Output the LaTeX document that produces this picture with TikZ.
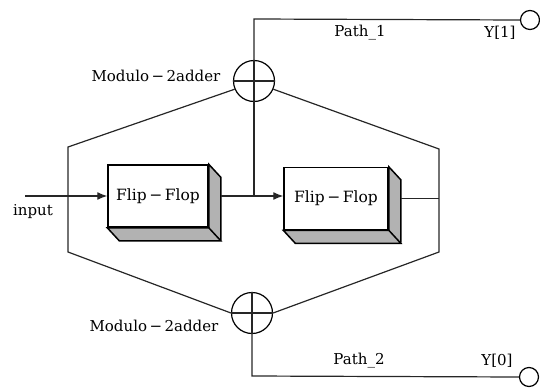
\documentclass[tikz,border=0pt]{standalone}
\usepackage{fontspec}
\setmainfont{DejaVu Serif}
\usetikzlibrary{arrows.meta,calc}
\tikzset{
  line/.style={line width=1.2pt,black!85},
  lbl/.style={font=\fontsize{15}{17}\selectfont,inner sep=0pt},
  ffbox/.style={draw,line width=1.5pt,fill=white,minimum height=62pt,inner sep=0pt,font=\fontsize{15.5}{17}\selectfont},
  side/.style={draw,line width=1.5pt,fill=black!30},
  adder/.style={draw,circle,line width=1.2pt,minimum size=41pt,inner sep=0pt},
  port/.style={draw,circle,line width=1.2pt,minimum size=19pt,inner sep=0pt,fill=white}
}
\newcommand{\flipflop}[4]{% name, x, y, width
  \node[ffbox,minimum width=#4] (#1) at (#2,#3) {Flip\,−\,Flop};
  \draw[side] (#1.north east)--++(12,13)--++(0,62)--++(-12,0)--cycle;
  \draw[side] (#1.south west)--(#1.south east)--++(12,13)--($(#1.south west)+(12,13)$)--cycle;
  \coordinate (#1out) at ($(#1.east)+(12,0)$);
}
\begin{document}
\begin{tikzpicture}[x=1pt,y=-1pt]
    \useasboundingbox (0,0) rectangle (540,388);
    \node[adder] (addA) at (254,81) {};
    \node[adder] (addB) at (252,313) {};
    \draw[line] (addA.north)--(addA.south);
    \draw[line] (addA.west)--(addA.east);
    \draw[line] (addB.north)--(addB.south);
    \draw[line] (addB.west)--(addB.east);
    \node[port] (yA) at (530,20) {};
    \node[port] (yB) at (529,377) {};
    \coordinate (HL1) at (68,147);
    \coordinate (HL2) at (68,252);
    \coordinate (HR1) at (439,149);
    \coordinate (HR2) at (439,252);
    \coordinate (inp) at (25,196);
    \coordinate (TA) at (254,19);
    \coordinate (TB) at (252,376);
    \draw[line] (addA.north)--(TA)--(yA.west);
    \draw[line] (addB.south)--(TB)--(yB.west);
    \draw[line] (addA.203)--(HL1)--(HL2)--(addB.west);
    \draw[line] (addA.-23)--(HR1)--(HR2)--(addB.east);
    \flipflop{ffA}{158}{196}{100pt}
    \flipflop{ffB}{336}{198.5}{104pt}
    \draw[line,-{Latex[length=10pt,width=8pt]}] (inp)--(ffA.west);
    \draw[line,-{Latex[length=10pt,width=8pt]}] (ffAout)--(ffB.west|-ffAout);
    \coordinate (J) at (254,196);
    \draw[line] (J)--(addA.south);
    \draw[line] (ffBout)--(HR1|-ffBout);
    \node[lbl] at (33,212) {input};
    \node[lbl] at (156,76) {Modulo\,−\,2adder};
    \node[lbl] at (154,326) {Modulo\,−\,2adder};
    \node[lbl] at (360,33) {Path\_1};
    \node[lbl] at (359,361) {Path\_2};
    \node[lbl] at (500,33) {Y[1]};
    \node[lbl] at (497,361) {Y[0]};
\end{tikzpicture}
\end{document}
